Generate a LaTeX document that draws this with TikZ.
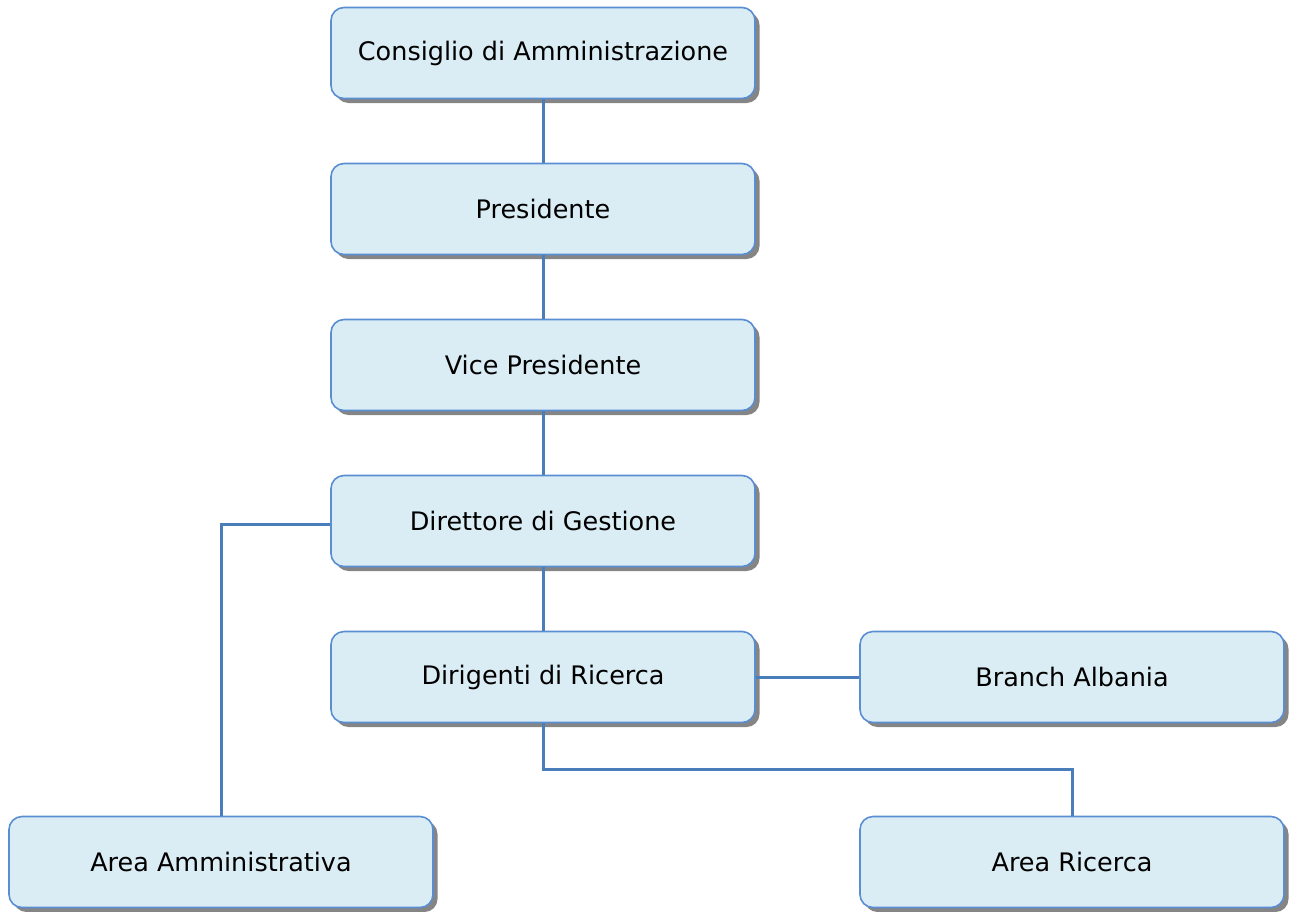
\documentclass[tikz,border=0pt]{standalone}
\usepackage{fontspec}
\setmainfont{DejaVu Sans}
\usetikzlibrary{shadows}

\definecolor{unitfill}{HTML}{DBEDF4}
\definecolor{unitdraw}{HTML}{5A8ED3}
\definecolor{linkcol}{HTML}{4A7EBB}

\tikzset{%
  every unit/.style={
    rectangle,
    rounded corners=13pt,
    draw=unitdraw,
    line width=1.6pt,
    fill=unitfill,
    minimum width=424pt,
    minimum height=91pt,
    font=\fontsize{25.5}{30}\selectfont,
    drop shadow={shadow xshift=4.5pt, shadow yshift=-4.5pt, fill=black!48, opacity=1}
  },
  link/.style={
    draw=linkcol,
    line width=3pt
  },
}

\begin{document}
\begin{tikzpicture}[x=1pt, y=-1pt]
\useasboundingbox (0,0) rectangle (1293,911);

\foreach \m/\l [count=\y from 0] in {cda/Consiglio di Amministrazione, pres/Presidente, vice/Vice Presidente, dir/Direttore di Gestione, dirig/Dirigenti di Ricerca}
  \node [every unit] (\m) at (543,53+\y*156) {\l};

\node [every unit] (branch) at (1072,677) {Branch Albania};
\node [every unit] (amm) at (221,862) {Area Amministrativa};
\node [every unit] (ric) at (1072,862) {Area Ricerca};

\foreach \i/\j in {cda/pres, pres/vice, vice/dir, dir/dirig}
  \draw [link] (\i.south) -- (\j.north);

\draw [link] (dirig.east) -- (branch.west);
\draw [link] ([yshift=-3pt]dir.west) -| (amm.north);
\draw [link] (dirig.south) -- ++(0,46) -| (ric.north);

\end{tikzpicture}
\end{document}
